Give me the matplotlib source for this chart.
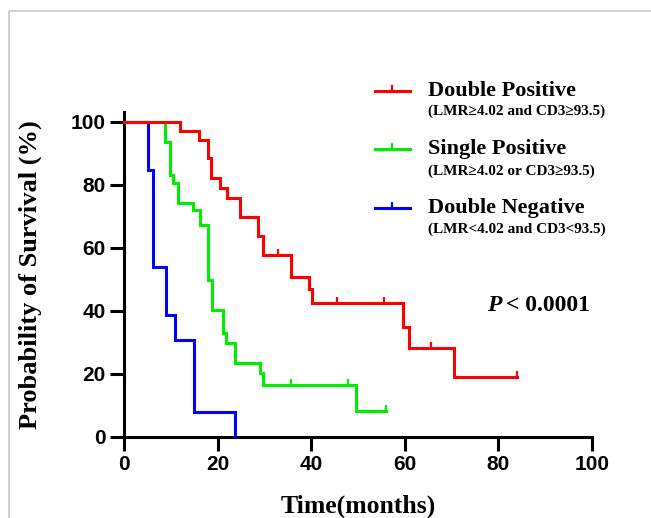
"""Kaplan-Meier survival curves by LMR / CD3 status (redrawn from a figure)."""

import matplotlib

matplotlib.use("Agg")
import matplotlib.pyplot as plt
from matplotlib.lines import Line2D
from matplotlib.path import Path
from matplotlib.patches import Rectangle

# ---- data (months, % surviving) ----
DP_TIMES = [0, 12, 16, 18, 18.5, 20.5, 22, 24.7, 28.7, 29.7, 35.7, 39.5, 40.2, 59.7, 60.8, 70.6, 84]
DP_SURV = [100, 97.1, 94.2, 88.4, 82.0, 79.0, 75.7, 69.8, 63.7, 57.6, 50.6, 46.8, 42.3, 34.8, 28.1, 18.9, 18.9]
DP_CENS_T = [32.9, 45.6, 55.6, 65.7, 84]
DP_CENS_S = [57.6, 42.3, 42.3, 28.1, 18.9]

SP_TIMES = [0, 8.7, 9.8, 10.5, 11.6, 14.8, 16.2, 18.0, 18.7, 21.2, 21.9, 23.7, 29.0, 29.7, 49.6, 56]
SP_SURV = [100, 93.7, 83.1, 80.4, 74.1, 72.0, 67.2, 49.7, 40.2, 33.0, 29.6, 23.3, 20.1, 16.4, 8.2, 8.2]
SP_CENS_T = [35.7, 47.8, 56]
SP_CENS_S = [16.4, 16.4, 8.2]

DN_TIMES = [0, 5.2, 6.1, 9.0, 10.8, 14.9, 23.8]
DN_SURV = [100, 84.6, 53.8, 38.5, 30.8, 7.7, 0]

GROUPS = ["Double Positive", "Single Positive", "Double Negative"]
CRITERIA = ["(LMR\u22654.02 and CD3\u226593.5)",
            "(LMR\u22654.02 or CD3\u226593.5)",
            "(LMR<4.02 and CD3<93.5)"]
COLORS = ["#ff0000", "#00ee00", "#0000ff"]

W, H = 651, 518
SERIF = ["Liberation Serif", "DejaVu Serif"]
SANS = ["Liberation Sans", "DejaVu Sans"]
LW = 2.2

# upward censor tick
CENSOR = Path([(0, 0), (0, 1)], [Path.MOVETO, Path.LINETO])


def px(x, y):
    """pixel position (from top-left) -> figure fraction"""
    return x / W, 1 - y / H


fig = plt.figure(figsize=(W / 100, H / 100), dpi=100)
fig.patches.append(Rectangle(px(9, 11), 1.0, -1.0, transform=fig.transFigure,
                             fill=False, edgecolor="#c8c8c8", lw=1.2))

ax = fig.add_axes([124 / W, 1 - 436.7 / H, 468 / W, 324.4 / H])

series = [(DP_TIMES, DP_SURV, DP_CENS_T, DP_CENS_S),
          (SP_TIMES, SP_SURV, SP_CENS_T, SP_CENS_S),
          (DN_TIMES, DN_SURV, [], [])]
# blue first, red last so red sits on top
for i in (2, 1, 0):
    t, s, ct, cs = series[i]
    ax.step(t, s, where="post", color=COLORS[i], lw=LW, clip_on=False,
            solid_joinstyle="miter", zorder=3 + (2 - i))
    if ct:
        ax.plot(ct, cs, ls="none", marker=CENSOR, ms=9, mew=1.6,
                color=COLORS[i], clip_on=False, zorder=3 + (2 - i))

ax.set_xlim(0, 100)
ax.set_ylim(0, 103)
ax.set_xticks(range(0, 101, 20))
ax.set_yticks(range(0, 101, 20))
for side in ("top", "right"):
    ax.spines[side].set_visible(False)
for side in ("left", "bottom"):
    ax.spines[side].set_linewidth(2.2)
ax.tick_params(direction="out", length=10, width=2.2, pad=3)
for lab in ax.get_xticklabels() + ax.get_yticklabels():
    lab.set_fontfamily(SANS)
    lab.set_fontweight("bold")
    lab.set_fontsize(15)

ax.set_xlabel("Time(months)", fontfamily=SERIF, fontweight="bold", fontsize=18.5)
ax.set_ylabel("Probability of Survival (%)", fontfamily=SERIF, fontweight="bold", fontsize=19)
ax.xaxis.set_label_coords(0.5, -0.178)
ax.yaxis.set_label_coords(-0.175, 0.5)

# P value
ax.text(80.6, 41.8, "P", fontfamily=SERIF, fontweight="bold", style="italic",
        fontsize=17, ha="right", va="center")
ax.text(81.6, 41.8, "< 0.0001", fontfamily=SERIF, fontweight="bold",
        fontsize=17, ha="left", va="center")

# hand-built legend
rows = [(90.7, 111.7), (149.0, 171.0), (207.7, 229.3)]
for (y_main, y_sub), name, crit, col in zip(rows, GROUPS, CRITERIA, COLORS):
    x0, y0 = px(375, y_main)
    x1, _ = px(410, y_main)
    fig.add_artist(Line2D([x0, x1], [y0, y0], color=col, lw=LW,
                          transform=fig.transFigure))
    xm, _ = px(392, y_main)
    fig.add_artist(Line2D([xm], [y0], marker=CENSOR, ms=9, mew=1.6, color=col,
                          transform=fig.transFigure))
    fig.text(*px(428, y_main), name, fontfamily=SERIF, fontweight="bold",
             fontsize=16, va="center", ha="left")
    fig.text(*px(428, y_sub), crit, fontfamily=SERIF, fontweight="bold",
             fontsize=11, va="center", ha="left")

fig.savefig("out.png", dpi=100)
